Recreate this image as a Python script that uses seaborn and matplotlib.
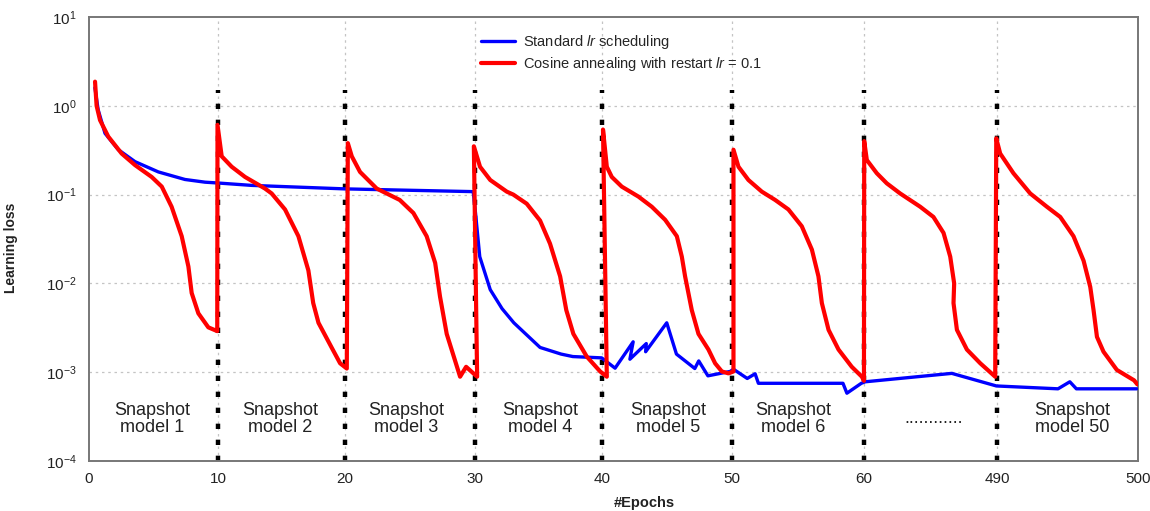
import matplotlib
matplotlib.use("Agg")
import matplotlib.pyplot as plt
import seaborn as sns

# x is a position on a compressed epoch axis (0..80), the last two ticks stand for 490 and 500
tick_pos = [0, 9.84, 19.53, 29.4, 39.1, 49.05, 59.1, 69.25, 80]
tick_labels = ["0", "10", "20", "30", "40", "50", "60", "490", "500"]
restart_pos = [9.84, 19.53, 29.4, 39.1, 49.05, 59.1, 69.25]
restart_top = 1.5

blue_x = [0.45, 0.7, 1.22, 2.24, 3.51, 5.29, 7.32, 8.85, 9.86, 12.4, 19.5, 29.3,
          29.45, 29.8, 30.6, 31.5, 32.4, 34.4, 36.0, 36.9, 39.1, 40.12,
          41.5, 41.25, 42.5, 42.45, 44.06, 44.8, 45.3, 46.2, 46.5, 47.2,
          48.9, 49.15, 50.2, 50.8, 51.05, 57.5, 57.8, 58.9, 59.2, 65.8,
          69.2, 73.9, 74.8, 75.3, 79.9]
blue_y = [1.6, 0.9, 0.49, 0.32, 0.235, 0.18, 0.148, 0.138, 0.135, 0.127, 0.116, 0.108,
          0.068, 0.020, 0.0085, 0.0052, 0.0036, 0.0019, 0.0016, 0.0015, 0.00145, 0.00111,
          0.0022, 0.0014, 0.0021, 0.0017, 0.0036, 0.0016, 0.0014, 0.0011, 0.00134, 0.00091,
          0.00102, 0.00108, 0.00085, 0.00096, 0.00075, 0.00075, 0.00058, 0.00075, 0.00078, 0.00097,
          0.0007, 0.00065, 0.00078, 0.00065, 0.00065]

red_x = [0.46, 0.58, 0.84, 1.47, 2.49, 3.51, 4.78, 5.55, 6.3, 7.07, 7.58, 7.83, 8.34, 9.1, 9.78,
         9.8, 10.12,
         10.88, 11.9, 13.42, 13.93, 14.95, 15.97, 16.73, 17.1, 17.5, 18.5, 19.15, 19.66,
         19.74, 20.04,
         20.67, 21.94, 23.7, 24.74, 25.75, 26.4, 26.77, 27.28, 28.3, 28.76, 29.6,
         29.35, 29.82,
         30.6, 31.86, 32.36, 33.38, 34.4, 35.16, 35.93, 36.4, 36.94, 37.96, 38.98, 39.49,
         39.2, 39.49,
         39.87, 40.63, 41.9, 42.92, 43.94, 44.83, 45.21, 45.46, 45.97, 46.48, 47.24, 47.75,
         48.26, 48.77, 49.15,
         49.15, 49.53,
         50.29, 51.31, 52.33, 53.34, 54.36, 55.13, 55.63, 55.89, 56.4, 57.16, 58.17, 58.94, 59.1,
         59.12, 59.32,
         60.08, 60.84, 61.86, 63.39, 64.4, 65.17, 65.68, 65.98, 65.93, 66.19, 66.95, 67.97, 69.11,
         69.19, 69.49,
         70.5, 71.78, 73.05, 74.07, 75.08, 75.85, 76.36, 76.61, 76.87, 77.37, 78.39, 79.7, 79.95]
red_y = [1.87, 1.0, 0.69, 0.45, 0.29, 0.215, 0.158, 0.123, 0.073, 0.034, 0.0155, 0.0078, 0.0046, 0.0032, 0.0029,
         0.61, 0.27,
         0.206, 0.158, 0.117, 0.103, 0.068, 0.034, 0.014, 0.006, 0.0036, 0.0019, 0.00126, 0.0011,
         0.38, 0.27,
         0.18, 0.117, 0.087, 0.062, 0.034, 0.017, 0.0071, 0.0027, 0.00089, 0.00115, 0.00089,
         0.35, 0.206,
         0.146, 0.108, 0.1, 0.079, 0.051, 0.028, 0.012, 0.005, 0.0027, 0.0015, 0.00102, 0.00089,
         0.54, 0.206,
         0.158, 0.123, 0.095, 0.073, 0.052, 0.034, 0.020, 0.012, 0.005, 0.0027, 0.0018, 0.00126,
         0.00102, 0.00097, 0.00102,
         0.32, 0.206,
         0.146, 0.108, 0.087, 0.068, 0.044, 0.024, 0.012, 0.006, 0.003, 0.0018, 0.00115, 0.00089, 0.0008,
         0.40, 0.245,
         0.174, 0.134, 0.103, 0.073, 0.056, 0.037, 0.020, 0.010, 0.006, 0.003, 0.0018, 0.00126, 0.00089,
         0.43, 0.29,
         0.174, 0.103, 0.073, 0.056, 0.034, 0.018, 0.0091, 0.005, 0.0025, 0.0017, 0.00106, 0.00081, 0.00073]

snap_x = [4.8, 14.6, 24.2, 34.4, 44.2, 53.7, 64.4, 75.0]
snap_text = ["Snapshot\nmodel 1", "Snapshot\nmodel 2", "Snapshot\nmodel 3",
             "Snapshot\nmodel 4", "Snapshot\nmodel 5", "Snapshot\nmodel 6",
             "............", "Snapshot\nmodel 50"]
snap_y = 3.0e-4

sns.set_style("white")
plt.rcParams["font.family"] = ["Liberation Sans", "DejaVu Sans"]
plt.rcParams["mathtext.fontset"] = "custom"
plt.rcParams["mathtext.rm"] = "Liberation Sans"
plt.rcParams["mathtext.it"] = "Liberation Sans:italic"
plt.rcParams["mathtext.bf"] = "Liberation Sans:bold"

fig = plt.figure(figsize=(11.5, 5.11), dpi=100)
ax = fig.add_axes([89 / 1150, 50 / 511, 1049 / 1150, 444 / 511])

ax.set_yscale("log")
ax.set_ylim(1e-4, 1e1)
ax.set_xlim(0, 80)

# grid
grid_kw = dict(color="#c4c4c4", lw=0.9, linestyle=(0, (2, 3)), zorder=0)
for d in [1e0, 1e-1, 1e-2, 1e-3]:
    ax.axhline(d, **grid_kw)
for p in tick_pos[1:-1]:
    ax.axvline(p, **grid_kw)

ax.vlines(restart_pos, 1e-4, restart_top, colors="black", lw=3.2,
          linestyles=(0, (1.2, 2.4)), zorder=2)

sns.lineplot(x=blue_x, y=blue_y, sort=False, estimator=None, color="#0000ff",
             lw=2.4, ax=ax, label="Standard $\\it{lr}$ scheduling", zorder=3,
             solid_joinstyle="round")
sns.lineplot(x=red_x, y=red_y, sort=False, estimator=None, color="#ff0000",
             lw=3.0, ax=ax, label="Cosine annealing with restart $\\it{lr}$ = 0.1", zorder=4,
             solid_joinstyle="round")

for x, t in zip(snap_x, snap_text):
    ax.text(x, snap_y, t, ha="center", va="center", fontsize=13,
            color="#222222", linespacing=1.0)

ax.set_xticks(tick_pos)
ax.set_xticklabels(tick_labels)
ax.set_yticks([1e-4, 1e-3, 1e-2, 1e-1, 1e0, 1e1])
ax.minorticks_off()
ax.tick_params(axis="both", length=0, labelsize=11, colors="#222222")
ax.tick_params(axis="x", pad=8)
ax.tick_params(axis="y", pad=9)

for s in ax.spines.values():
    s.set_color("#777777")
    s.set_linewidth(1.4)

ax.set_xlabel("#Epochs", fontsize=10.5, fontweight="bold", color="#222222")
ax.xaxis.set_label_coords(0.529, -0.078)
ax.set_ylabel("Learning loss", fontsize=10, fontweight="bold", color="#222222")
ax.yaxis.set_label_coords(-0.068, 0.48)

ax.legend(loc="upper left", bbox_to_anchor=(481 / 1150, 1 - 33 / 511),
          bbox_transform=fig.transFigure, frameon=False, fontsize=10.5,
          handlelength=2.3, handletextpad=0.55, labelspacing=0.25,
          borderpad=0, borderaxespad=0)

fig.savefig("out.png", dpi=100)
